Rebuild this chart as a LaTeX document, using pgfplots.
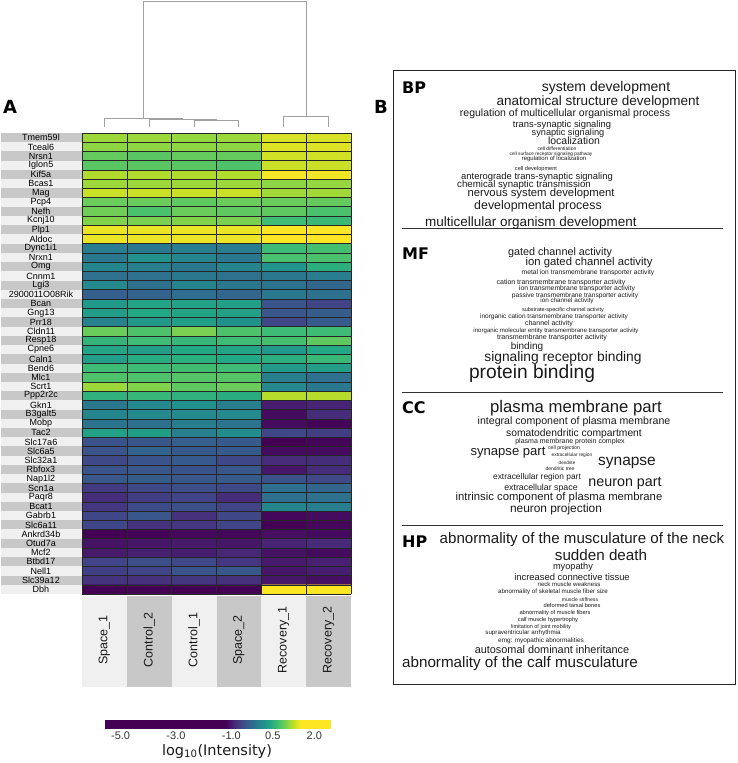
\documentclass[border=0pt]{standalone}
\usepackage{fontspec}
\setmainfont{Liberation Sans}
\newfontfamily\dvs{DejaVu Sans}
\usepackage{pgfplots}
\pgfplotsset{compat=1.18}
\definecolor{bandD}{HTML}{C8C8C8}
\definecolor{bandL}{HTML}{F0F0F0}
\definecolor{dendro}{HTML}{A0A0A0}
\definecolor{ink}{HTML}{1A1A1A}
\newcommand\fs[1]{\fontsize{#1}{#1}\selectfont}
% word cloud entry: x, y (pt from top left), size, text
\newcommand\wc[4]{\node[font=\fs{#3}, inner sep=0pt, text=ink] at (#1pt,-#2pt) {#4};}

\begin{document}
\begin{tikzpicture}
\useasboundingbox (0,0) rectangle (738pt,-763pt);

%%%%%%%%%%%%%%%%%%%%
% label bands
%%%%%%%%%%%%%%%%%%%%
\foreach \i in {0,...,49}{
  \pgfmathsetmacro\yt{-133-9.22*\i}
  \pgfmathsetmacro\yb{\yt-9.22}
  \ifodd\i\def\bc{bandL}\else\def\bc{bandD}\fi
  \fill[\bc] (1pt,\yt pt) rectangle (82pt,\yb pt);
}
\foreach \j in {0,...,5}{
  \pgfmathsetmacro\xl{82+44.833*\j}
  \pgfmathsetmacro\xr{\xl+44.833}
  \ifodd\j\def\bc{bandD}\else\def\bc{bandL}\fi
  \fill[\bc] (\xl pt,-596pt) rectangle (\xr pt,-687pt);
}

\coordinate (cbsw) at (104pt,-720pt);

%%%%%%%%%%%%%%%%%%%%
% heatmap
%%%%%%%%%%%%%%%%%%%%
\begin{axis}[
    at={(82pt,-594pt)}, anchor=south west,
    width=269pt, height=461pt, scale only axis,
    xmin=-0.5, xmax=5.5, ymin=-0.5, ymax=49.5,
    y dir=reverse,
    axis line style={draw=none},
    major tick length=0pt, minor tick length=0pt,
    xtick={0,...,5},
    xticklabels={Space\_1,Control\_2,Control\_1,Space\_2,Recovery\_1,Recovery\_2},
    xticklabel style={font=\fs{12.5}, text=ink, rotate=90, anchor=center},
    xticklabel shift=46pt,
    ytick={0,...,49},
    yticklabels={Tmem59l,Tceal6,Nrsn1,Iglon5,Kif5a,Bcas1,Mag,Pcp4,Nefh,Kcnj10,
      Plp1,Aldoc,Dync1i1,Nrxn1,Omg,Cnnm1,Lgi3,2900011O08Rik,Bcan,Gng13,
      Prr18,Cldn11,Resp18,Cpne6,Caln1,Bend6,Mlc1,Scrt1,Ppp2r2c,Gkn1,
      B3galt5,Mobp,Tac2,Slc17a6,Slc6a5,Slc32a1,Rbfox3,Nap1l2,Scn1a,Paqr8,
      Bcat1,Gabrb1,Slc6a11,Ankrd34b,Otud7a,Mcf2,Btbd17,Nell1,Slc39a12,Dbh},
    yticklabel style={font=\fs{9}, text=black, anchor=center},
    yticklabel shift=41pt,
    minor xtick={-0.5,0.5,...,5.5},
    minor ytick={-0.5,0.5,...,49.5},
    grid=minor,
    minor grid style={black!85, line width=0.55pt},
    axis on top,
    colormap={heat}{rgb255(0pt)=(68,1,84) rgb255(44pt)=(68,1,84)
      rgb255(46.7pt)=(72,36,117) rgb255(49.4pt)=(65,68,135)
      rgb255(52.1pt)=(53,95,141) rgb255(54.8pt)=(42,120,142)
      rgb255(57.5pt)=(33,145,140) rgb255(60.2pt)=(34,168,132)
      rgb255(62.9pt)=(68,191,112) rgb255(65.6pt)=(122,209,81)
      rgb255(68.3pt)=(189,223,38) rgb255(71pt)=(253,231,37)
      rgb255(82pt)=(253,231,37)},
    point meta min=-5.6, point meta max=2.6,
    colorbar horizontal,
    colorbar style={
        at={(cbsw)}, anchor=south west,
        width=227pt, height=8pt, scale only axis,
        y dir=normal,
        xtick={-5,-3,-1,0.5,2},
        xticklabels={-5.0,-3.0,-1.0,0.5,2.0},
        xticklabel pos=lower,
        xticklabel style={font=\fs{11}, text=black!80, rotate=0, anchor=north},
        xticklabel shift=0pt,
        major tick length=0pt,
        axis line style={draw=none},
        grid=none,
    },
]
% values: 6 per gene (Space_1, Control_2, Control_1, Space_2, Recovery_1, Recovery_2),
% genes from Tmem59l (top) down to Dbh
\addplot[matrix plot*, mesh/cols=6, point meta=explicit]
  table[row sep=\\, x expr={mod(\coordindex,6)}, y expr={floor((\coordindex+0.5)/6)}, meta=c] {
c\\
1.10\\ 1.10\\ 1.07\\ 1.10\\ 1.34\\ 1.34\\
1.04\\ 1.04\\ 1.04\\ 1.04\\ 1.37\\ 1.37\\
0.85\\ 0.80\\ 0.85\\ 0.85\\ 1.31\\ 1.31\\
0.80\\ 0.80\\ 0.80\\ 0.74\\ 1.28\\ 1.28\\
1.18\\ 1.18\\ 1.18\\ 1.18\\ 1.47\\ 1.45\\
1.10\\ 1.10\\ 1.10\\ 1.10\\ 1.04\\ 1.07\\
1.28\\ 1.28\\ 1.28\\ 1.28\\ 1.12\\ 1.12\\
0.88\\ 0.88\\ 0.83\\ 0.88\\ 0.88\\ 0.85\\
0.91\\ 0.72\\ 0.88\\ 0.83\\ 0.83\\ 0.72\\
0.99\\ 0.96\\ 0.99\\ 0.96\\ 0.64\\ 0.61\\
1.42\\ 1.42\\ 1.42\\ 1.42\\ 1.50\\ 1.50\\
1.42\\ 1.42\\ 1.42\\ 1.42\\ 2.00\\ 2.00\\
-0.07\\ -0.12\\ -0.07\\ -0.07\\ 0.64\\ 0.69\\
-0.12\\ 0.15\\ 0.02\\ -0.12\\ 0.72\\ 0.72\\
0.02\\ -0.04\\ -0.12\\ 0.02\\ 0.20\\ 0.50\\
-0.20\\ -0.20\\ -0.12\\ -0.20\\ -0.12\\ -0.07\\
0.07\\ -0.20\\ 0.02\\ -0.12\\ -0.17\\ -0.31\\
-0.39\\ -0.34\\ -0.23\\ -0.31\\ -0.12\\ -0.20\\
0.26\\ 0.37\\ 0.34\\ 0.31\\ -0.50\\ -0.66\\
0.29\\ 0.42\\ 0.37\\ 0.34\\ -0.47\\ -0.42\\
-0.01\\ 0.23\\ 0.31\\ 0.15\\ -0.63\\ -0.44\\
0.88\\ 0.74\\ 0.96\\ 0.74\\ 0.64\\ 0.64\\
0.56\\ 0.64\\ 0.58\\ 0.64\\ 0.69\\ 0.83\\
0.37\\ 0.29\\ 0.42\\ 0.37\\ 0.23\\ 0.42\\
0.29\\ 0.47\\ 0.50\\ 0.42\\ 0.50\\ 0.61\\
0.64\\ 0.64\\ 0.66\\ 0.64\\ 0.26\\ 0.29\\
0.74\\ 0.74\\ 0.77\\ 0.77\\ -0.04\\ -0.20\\
1.10\\ 0.99\\ 0.83\\ 0.88\\ 0.07\\ -0.12\\
0.53\\ 0.58\\ 0.53\\ 0.47\\ 1.20\\ 1.20\\
-0.12\\ 0.07\\ 0.15\\ -0.04\\ -0.98\\ -0.93\\
0.02\\ 0.07\\ 0.07\\ 0.07\\ -1.12\\ -0.85\\
-0.17\\ -0.20\\ -0.04\\ -0.17\\ -1.12\\ -1.17\\
0.34\\ 0.29\\ -0.04\\ 0.10\\ -0.63\\ -0.71\\
-0.50\\ -0.47\\ -0.39\\ -0.44\\ -1.60\\ -1.17\\
-0.50\\ -0.34\\ -0.44\\ -0.44\\ -1.12\\ -1.12\\
-0.61\\ -0.50\\ -0.44\\ -0.63\\ -0.88\\ -0.85\\
-0.50\\ -0.47\\ -0.50\\ -0.47\\ -1.04\\ -0.85\\
-0.47\\ -0.42\\ -0.47\\ -0.44\\ -0.53\\ -0.61\\
-0.74\\ -0.61\\ -0.55\\ -0.61\\ -0.23\\ -0.31\\
-0.85\\ -0.71\\ -0.66\\ -0.85\\ -0.20\\ -0.20\\
-0.77\\ -0.58\\ -0.55\\ -0.66\\ 0.02\\ -0.04\\
-0.63\\ -0.47\\ -0.82\\ -0.63\\ -1.15\\ -1.12\\
-0.63\\ -0.80\\ -0.77\\ -0.66\\ -1.80\\ -1.15\\
-2.00\\ -1.17\\ -1.15\\ -1.15\\ -1.09\\ -1.12\\
-1.07\\ -1.04\\ -1.01\\ -1.04\\ -0.93\\ -0.88\\
-1.01\\ -0.96\\ -0.98\\ -0.90\\ -1.07\\ -1.12\\
-0.66\\ -0.55\\ -0.61\\ -0.77\\ -1.01\\ -0.96\\
-0.71\\ -0.66\\ -0.50\\ -0.47\\ -1.04\\ -0.98\\
-0.80\\ -0.82\\ -0.77\\ -0.82\\ -1.04\\ -1.09\\
-5.60\\ -5.60\\ -5.60\\ -5.60\\ 2.60\\ 2.60\\
};
\end{axis}

\node[font=\dvs\fs{14.5}, text=ink] at (217pt,-751pt) {log\textsubscript{10}(Intensity)};

%%%%%%%%%%%%%%%%%%%%
% dendrogram
%%%%%%%%%%%%%%%%%%%%
\begin{axis}[
    at={(82pt,-127pt)}, anchor=south west,
    width=269pt, height=126pt, scale only axis,
    xmin=-0.5, xmax=5.5, ymin=0, ymax=126,
    hide axis, clip=false,
]
\addplot[dendro, line width=0.9pt] coordinates {(2,0) (2,6.3) (3,6.3) (3,0)};
\addplot[dendro, line width=0.9pt] coordinates {(1,0) (1,8) (2.5,8) (2.5,6.3)};
\addplot[dendro, line width=0.9pt] coordinates {(0,0) (0,9) (1.75,9) (1.75,8)};
\addplot[dendro, line width=0.9pt] coordinates {(4,0) (4,11) (5,11) (5,0)};
\addplot[dendro, line width=0.9pt] coordinates {(0.875,9) (0.875,126) (4.5,126) (4.5,11)};
\end{axis}

%%%%%%%%%%%%%%%%%%%%
% panel labels
%%%%%%%%%%%%%%%%%%%%
\node[font=\dvs\bfseries\fs{18}, inner sep=0pt] at (10pt,-107pt) {A};
\node[font=\dvs\bfseries\fs{18}, inner sep=0pt] at (381pt,-107pt) {B};

%%%%%%%%%%%%%%%%%%%%
% panel B: enriched terms
%%%%%%%%%%%%%%%%%%%%
\draw[line width=1pt, black!85] (393pt,-70pt) rectangle (735pt,-684pt);
\draw[line width=1pt, black!80] (402pt,-228pt) -- (723pt,-228pt);
\draw[line width=1pt, black!80] (402pt,-392pt) -- (723pt,-392pt);
\draw[line width=1pt, black!80] (402pt,-525pt) -- (723pt,-525pt);

\foreach \t/\y in {BP/88,MF/254,CC/408,HP/542}
  \node[anchor=west, font=\dvs\bfseries\fs{16}, inner sep=0pt] at (402pt,-\y pt) {\t};

% BP
\wc{606}{88}{14}{system development}
\wc{598}{102}{13.5}{anatomical structure development}
\wc{565}{114}{10.5}{regulation of multicellular organismal process}
\wc{562}{125}{9.4}{trans-synaptic signaling}
\wc{568}{133}{9.2}{synaptic signaling}
\wc{574}{141}{10.5}{localization}
\wc{557}{149}{5}{cell differentiation}
\wc{551}{154}{4.8}{cell surface receptor signaling pathway}
\wc{554}{159}{6}{regulation of localization}
\wc{536}{169}{5.6}{cell development}
\wc{537}{177}{9.4}{anterograde trans-synaptic signaling}
\wc{524}{185}{9.7}{chemical synaptic transmission}
\wc{541}{194}{11.3}{nervous system development}
\wc{538}{206}{12.4}{developmental process}
\wc{531}{223}{13.5}{multicellular organism development}
% MF
\wc{560}{253}{10.8}{gated channel activity}
\wc{589}{263}{11.3}{ion gated channel activity}
\wc{588}{273}{6.7}{metal ion transmembrane transporter activity}
\wc{561}{283}{7}{cation transmembrane transporter activity}
\wc{577}{289}{6.8}{ion transmembrane transporter activity}
\wc{575}{296}{6.6}{passive transmembrane transporter activity}
\wc{567}{301}{6.3}{ion channel activity}
\wc{563}{310}{5.5}{substrate-specific channel activity}
\wc{554}{317}{6.5}{inorganic cation transmembrane transporter activity}
\wc{549}{324}{7}{channel activity}
\wc{556}{331}{6.1}{inorganic molecular entity transmembrane transporter activity}
\wc{552}{338}{7.1}{transmembrane transporter activity}
\wc{527}{347}{10}{binding}
\wc{563}{358}{13.8}{signaling receptor binding}
\wc{532}{374}{19.2}{protein binding}
% CC
\wc{576}{408}{16.7}{plasma membrane part}
\wc{574}{422}{10.6}{integral component of plasma membrane}
\wc{574}{434}{10.3}{somatodendritic compartment}
\wc{570}{442}{7}{plasma membrane protein complex}
\wc{508}{453}{13.1}{synapse part}
\wc{564}{448}{5.2}{cell projection}
\wc{572}{455.5}{4.8}{extracellular region}
\wc{567}{462.5}{4.6}{dendrite}
\wc{560}{469}{5}{dendritic tree}
\wc{627}{463}{15.5}{synapse}
\wc{537}{477}{8.4}{extracellular region part}
\wc{625}{483}{14.3}{neuron part}
\wc{541}{488}{8.8}{extracellular space}
\wc{559}{498}{11.3}{intrinsic component of plasma membrane}
\wc{556}{509}{11.9}{neuron projection}
% HP
\wc{582}{540}{15.1}{abnormality of the musculature of the neck}
\wc{601}{555}{15.2}{sudden death}
\wc{573}{567}{9.2}{myopathy}
\wc{572}{577}{9.4}{increased connective tissue}
\wc{569}{584}{6.1}{neck muscle weakness}
\wc{553}{592}{6.2}{abnormality of skeletal muscle fiber size}
\wc{580}{600}{5.1}{muscle stiffness}
\wc{572}{605}{5.7}{deformed tarsal bones}
\wc{555}{613}{5.7}{abnormality of muscle fibers}
\wc{548}{620}{5.7}{calf muscle hypertrophy}
\wc{541}{627}{5.5}{limitation of joint mobility}
\wc{523}{633}{6.2}{supraventricular arrhythmia}
\wc{541}{641}{6.4}{emg: myopathic abnormalities}
\wc{552}{650}{10.9}{autosomal dominant inheritance}
\wc{520}{664}{15.2}{abnormality of the calf musculature}

\end{tikzpicture}
\end{document}
